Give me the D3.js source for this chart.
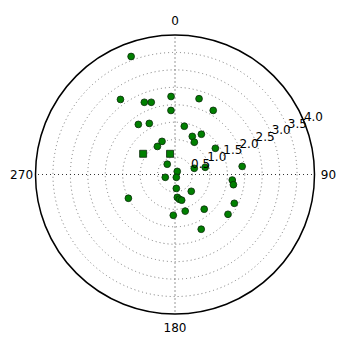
<!DOCTYPE html>
<html>
<head>
<meta charset="utf-8">
<script src="https://cdn.jsdelivr.net/npm/d3@7"></script>
<style>
  body { margin: 0; background: #fff; }
  text { font-family: "DejaVu Sans", sans-serif; font-size: 12px; fill: #000; }
</style>
</head>
<body>
<div id="chart"></div>
<script>
// angles in degrees, clockwise from north
var circleTheta = [339.6, 324, 337, 341.8, 357.1, 17.6, 356.4, 30.8, 323.8, 333.3,
    10.9, 24.4, 33.2, 30.9, 338.6, 327.9, 57, 323, 35.7, 72.2,
    76.6, 253.9, 155.1, 83.1, 95.5, 99.9, 174.6, 135.9, 243, 174.2,
    170.2, 165.4, 164.4, 139.9, 182.4, 126.9, 115.9, 154.4];
var circleR = [3.61, 2.66, 2.25, 2.18, 2.24, 2.28, 1.84, 2.14, 1.78, 1.64,
    1.41, 1.20, 1.38, 1.08, 1.02, 0.95, 1.38, 0.37, 0.11, 0.58,
    0.89, 0.29, 0.09, 1.94, 1.65, 1.70, 0.40, 0.67, 1.50, 0.66,
    0.72, 0.76, 1.09, 1.30, 1.17, 1.90, 1.89, 1.74];
var squareTheta = [303, 346.5];
var squareR = [1.09, 0.61];

var rTicks = [0.5, 1.0, 1.5, 2.0, 2.5, 3.0, 3.5, 4.0];
var thetaTicks = [0, 90, 180, 270];
var rLabelAngle = 67.5;

var width = 350, height = 350;
var cx = 175, cy = 174.5, R = 139.5;

var svg = d3.select("#chart")
    .append("svg")
    .attr("width", width)
    .attr("height", height)
    .append("g")
    .attr("transform", `translate(${cx},${cy})`);

var r = d3.scaleLinear().domain([0, 4]).range([0, R]);
var ang = d3.scaleLinear().domain([0, 360]).range([0, 2 * Math.PI]);

function px(t, v) { return r(v) * Math.sin(ang(t)); }
function py(t, v) { return -r(v) * Math.cos(ang(t)); }

// circular grid
svg.append("g")
    .selectAll("circle")
    .data(rTicks.slice(0, -1))
    .join("circle")
    .attr("r", d => r(d))
    .attr("fill", "none")
    .attr("stroke", "#777")
    .attr("stroke-width", 1)
    .attr("stroke-dasharray", "1,3");

// spokes
svg.append("g")
    .selectAll("line")
    .data(thetaTicks)
    .join("line")
    .attr("x1", 0).attr("y1", 0)
    .attr("x2", d => px(d, 4))
    .attr("y2", d => py(d, 4))
    .attr("stroke", "#333")
    .attr("stroke-width", 1)
    .attr("stroke-dasharray", "1,3");

// outer spine
svg.append("circle")
    .attr("r", r(4))
    .attr("fill", "none")
    .attr("stroke", "#000")
    .attr("stroke-width", 1.5);

var pts = svg.append("g");

pts.selectAll("path.c")
    .data(circleTheta.map((t, i) => [t, circleR[i]]))
    .join("path")
    .attr("class", "c")
    .attr("d", d3.symbol().type(d3.symbolCircle).size(36))
    .attr("transform", d => `translate(${px(d[0], d[1])},${py(d[0], d[1])})`)
    .attr("fill", "#008000")
    .attr("stroke", "#0b2b0b")
    .attr("stroke-width", 0.8);

pts.selectAll("path.s")
    .data(squareTheta.map((t, i) => [t, squareR[i]]))
    .join("path")
    .attr("class", "s")
    .attr("d", d3.symbol().type(d3.symbolSquare).size(49))
    .attr("transform", d => `translate(${px(d[0], d[1])},${py(d[0], d[1])})`)
    .attr("fill", "#008000")
    .attr("stroke", "#0b2b0b")
    .attr("stroke-width", 0.8);

// radial tick labels
svg.append("g")
    .selectAll("text")
    .data(rTicks)
    .join("text")
    .attr("x", d => px(rLabelAngle, d))
    .attr("y", d => py(rLabelAngle, d))
    .attr("text-anchor", "start")
    .text(d => d.toFixed(1));

// angle labels
svg.append("g")
    .selectAll("text")
    .data(thetaTicks)
    .join("text")
    .attr("x", d => px(d, 4.4))
    .attr("y", d => py(d, 4.4))
    .attr("text-anchor", "middle")
    .attr("dy", "0.35em")
    .text(d => d);
</script>
</body>
</html>
